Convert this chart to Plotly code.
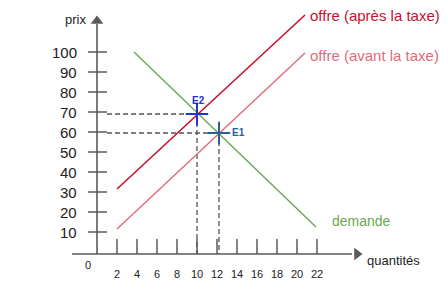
import plotly.graph_objects as go

# ---- data ----
y_ticks = [10, 20, 30, 40, 50, 60, 70, 80, 90, 100]
x_ticks = [2, 4, 6, 8, 10, 12, 14, 16, 18, 20, 22]
demand_q = [3.7, 21.9]
demand_p = [100, 12.5]
supply_before_q = [2, 20.8]
supply_before_p = [11.5, 99.5]
supply_after_q = [2, 20.8]
supply_after_p = [31.5, 118.5]
eq_names = ["E1", "E2"]
eq_q = [12.2, 10.0]
eq_p = [59.5, 69.0]

AX = "#5a5a5a"
FONT = "Liberation Sans, Arial, sans-serif"
C_AFTER = "#c8102e"
C_BEFORE = "#e06b78"
C_DEM = "#6aa84f"
C_E = {"E1": "#2a6099", "E2": "#2233cc"}

fig = go.Figure()

def seg(x, y, color, width=1.5, dash="solid"):
    fig.add_trace(go.Scatter(x=x, y=y, mode="lines", hoverinfo="skip",
                             line=dict(color=color, width=width, dash=dash),
                             showlegend=False))

axis_p = -1.0
# axes
seg([-2.5, 25.5], [axis_p, axis_p], AX, 1.6)
seg([0, 0], [axis_p, 114], AX, 1.6)
fig.add_trace(go.Scatter(x=[26.0], y=[axis_p], mode="markers", hoverinfo="skip",
                         marker=dict(symbol="triangle-right", size=11, color=AX),
                         showlegend=False))
fig.add_trace(go.Scatter(x=[0], y=[115.5], mode="markers", hoverinfo="skip",
                         marker=dict(symbol="triangle-up", size=11, color=AX),
                         showlegend=False))

# ticks
for p in y_ticks:
    seg([-0.9, 1.0], [p, p], AX, 1.5)
    fig.add_annotation(x=-1.8, y=p, text=str(p), showarrow=False, xanchor="right",
                       yanchor="middle", font=dict(family=FONT, size=15, color="#222"))
for q in x_ticks:
    seg([q, q], [axis_p, 6.5], AX, 1.5)
    fig.add_annotation(x=q, y=-11, text=str(q), showarrow=False, xanchor="center",
                       yanchor="middle", font=dict(family=FONT, size=11, color="#222"))

# dashed guides
for n, q, p in zip(eq_names, eq_q, eq_p):
    seg([1.0, q], [p, p], "#555", 1.3, "5px,3px")
    seg([q, q], [p, axis_p], "#555", 1.3, "5px,3px")

# curves
seg(demand_q, demand_p, C_DEM, 1.4)
seg(supply_before_q, supply_before_p, C_BEFORE, 1.4)
seg(supply_after_q, supply_after_p, C_AFTER, 1.6)

# equilibrium markers
for n, q, p in zip(eq_names, eq_q, eq_p):
    fig.add_trace(go.Scatter(x=[q], y=[p], mode="markers", hoverinfo="skip",
                             marker=dict(symbol="cross-thin", size=16,
                                         line=dict(color=C_E[n], width=2)),
                             showlegend=False))
fig.add_annotation(x=eq_q[1] + 0.1, y=eq_p[1] + 7, text="<b>E2</b>", showarrow=False,
                   font=dict(family=FONT, size=10, color=C_E["E2"]))
fig.add_annotation(x=eq_q[0] + 1.1, y=eq_p[0] + 0.5, text="<b>E1</b>", showarrow=False,
                   xanchor="left", font=dict(family=FONT, size=10, color=C_E["E1"]))

# labels
fig.add_annotation(x=-2.2, y=116.5, text="prix", showarrow=False,
                   font=dict(family=FONT, size=13, color="#222"))
fig.add_annotation(x=-0.9, y=-6.5, text="0", showarrow=False,
                   font=dict(family=FONT, size=11, color="#222"))
fig.add_annotation(x=26.8, y=-4, text="quantités", showarrow=False, xanchor="left",
                   font=dict(family=FONT, size=13, color="#222"))
fig.add_annotation(x=21.1, y=118.5, text="offre (après la taxe)", showarrow=False,
                   xanchor="left", font=dict(family=FONT, size=15, color=C_AFTER))
fig.add_annotation(x=21.1, y=98.5, text="offre (avant la taxe)", showarrow=False,
                   xanchor="left", font=dict(family=FONT, size=15, color=C_BEFORE))
fig.add_annotation(x=23.3, y=15.5, text="demande", showarrow=False,
                   xanchor="left", font=dict(family=FONT, size=14, color=C_DEM))

fig.update_layout(
    width=448, height=293, margin=dict(l=0, r=0, t=0, b=0),
    paper_bgcolor="white", plot_bgcolor="white",
    xaxis=dict(range=[-9.7, 35.1], visible=False, fixedrange=True),
    yaxis=dict(range=[-20.5, 126], visible=False, fixedrange=True),
    showlegend=False,
)
fig.write_html("out.html", config={"displayModeBar": False})
